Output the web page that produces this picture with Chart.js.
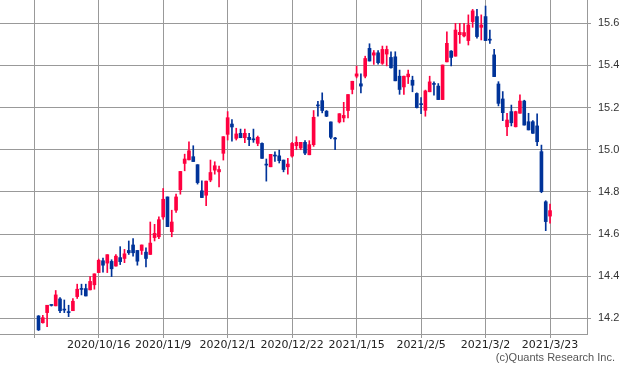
<!DOCTYPE html>
<html>
<head>
<meta charset="utf-8">
<script src="https://cdn.jsdelivr.net/npm/chart.js@4"></script>
<style>
html, body { margin: 0; padding: 0; background: #fff; }
</style>
</head>
<body>
<canvas id="candleChart" width="620" height="372"></canvas>
<script>
// DATA (one candle per trading day, index 0 = first day)
const tickIndex = [-1, 14, 29, 44, 59, 74, 89, 104, 119];
const tickLabels = ["", "2020/10/16", "2020/11/9", "2020/12/1", "2020/12/22", "2021/1/15", "2021/2/5", "2021/3/2", "2021/3/23"];
const yTicks = [14.2, 14.4, 14.6, 14.8, 15.0, 15.2, 15.4, 15.6];

const opens = [
    14.211, 14.179, 14.227, 14.263, 14.259, 14.292, 14.241, 14.229, 14.236, 14.303,
    14.339, 14.341, 14.335, 14.359, 14.417, 14.473, 14.462, 14.470, 14.448, 14.488,
    14.484, 14.522, 14.548, 14.522, 14.522, 14.514, 14.503, 14.583, 14.587, 14.681,
    14.776, 14.611, 14.713, 14.810, 14.935, 14.952, 14.967, 14.929, 14.805, 14.784,
    14.856, 14.903, 14.895, 14.983, 15.073, 15.122, 15.054, 15.078, 15.057, 15.059,
    15.049, 15.030, 15.030, 14.930, 14.919, 14.972, 14.971, 14.951, 14.919, 14.970,
    15.019, 15.008, 15.035, 14.976, 15.024, 15.211, 15.233, 15.183, 15.132, 15.053,
    15.132, 15.151, 15.186, 15.286, 15.349, 15.313, 15.349, 15.481, 15.449, 15.460,
    15.410, 15.454, 15.438, 15.441, 15.349, 15.298, 15.346, 15.330, 15.267, 15.216,
    15.187, 15.275, 15.312, 15.302, 15.238, 15.417, 15.468, 15.444, 15.546, 15.540,
    15.518, 15.608, 15.632, 15.581, 15.632, 15.522, 15.450, 15.312, 15.241, 15.109,
    15.181, 15.109, 15.173, 15.231, 15.133, 15.133, 15.113, 14.991, 14.753, 14.685
];
const highs = [
    14.213, 14.214, 14.262, 14.265, 14.332, 14.298, 14.287, 14.262, 14.294, 14.362,
    14.362, 14.362, 14.398, 14.411, 14.481, 14.486, 14.502, 14.478, 14.502, 14.540,
    14.527, 14.567, 14.578, 14.522, 14.548, 14.535, 14.657, 14.646, 14.681, 14.816,
    14.776, 14.713, 14.789, 14.897, 14.979, 15.038, 15.019, 14.929, 14.852, 14.851,
    14.951, 14.943, 14.922, 15.062, 15.181, 15.143, 15.102, 15.098, 15.098, 15.078,
    15.098, 15.065, 15.033, 14.956, 14.978, 14.990, 14.998, 14.951, 14.959, 15.035,
    15.062, 15.035, 15.043, 15.043, 15.186, 15.230, 15.270, 15.186, 15.132, 15.059,
    15.171, 15.225, 15.262, 15.325, 15.397, 15.360, 15.444, 15.503, 15.471, 15.470,
    15.492, 15.492, 15.465, 15.465, 15.378, 15.350, 15.378, 15.349, 15.270, 15.248,
    15.283, 15.349, 15.322, 15.314, 15.402, 15.560, 15.470, 15.600, 15.600, 15.600,
    15.640, 15.666, 15.666, 15.640, 15.682, 15.568, 15.477, 15.323, 15.276, 15.173,
    15.212, 15.183, 15.260, 15.235, 15.173, 15.138, 15.170, 15.022, 14.758, 14.742
];
const lows = [
    14.142, 14.177, 14.160, 14.258, 14.259, 14.227, 14.227, 14.208, 14.236, 14.294,
    14.311, 14.306, 14.335, 14.338, 14.417, 14.419, 14.417, 14.398, 14.448, 14.455,
    14.464, 14.503, 14.495, 14.452, 14.503, 14.444, 14.503, 14.567, 14.578, 14.670,
    14.635, 14.587, 14.702, 14.789, 14.900, 14.952, 14.944, 14.837, 14.773, 14.735,
    14.848, 14.884, 14.824, 14.951, 15.046, 15.041, 15.046, 15.057, 15.033, 15.019,
    15.035, 15.019, 14.959, 14.851, 14.919, 14.944, 14.937, 14.895, 14.884, 14.965,
    15.000, 15.000, 14.976, 14.976, 15.016, 15.159, 15.175, 15.157, 15.052, 15.000,
    15.127, 15.132, 15.151, 15.265, 15.341, 15.270, 15.341, 15.421, 15.405, 15.406,
    15.405, 15.398, 15.387, 15.327, 15.263, 15.263, 15.314, 15.275, 15.198, 15.171,
    15.159, 15.275, 15.259, 15.238, 15.238, 15.417, 15.398, 15.444, 15.505, 15.535,
    15.497, 15.581, 15.529, 15.521, 15.518, 15.505, 15.347, 15.208, 15.138, 15.067,
    15.113, 15.108, 15.173, 15.117, 15.094, 15.078, 15.019, 14.796, 14.616, 14.651
];
const closes = [
    14.145, 14.203, 14.262, 14.261, 14.311, 14.236, 14.239, 14.227, 14.281, 14.338,
    14.337, 14.306, 14.375, 14.411, 14.475, 14.452, 14.502, 14.435, 14.495, 14.469,
    14.506, 14.511, 14.511, 14.471, 14.548, 14.484, 14.557, 14.603, 14.668, 14.765,
    14.635, 14.657, 14.776, 14.897, 14.956, 14.995, 14.944, 14.844, 14.773, 14.851,
    14.892, 14.924, 14.906, 15.062, 15.152, 15.108, 15.075, 15.057, 15.078, 15.048,
    15.047, 15.059, 14.959, 14.927, 14.978, 14.970, 14.948, 14.906, 14.932, 15.030,
    15.035, 15.035, 14.984, 15.024, 15.154, 15.208, 15.186, 15.159, 15.059, 15.051,
    15.171, 15.163, 15.262, 15.325, 15.360, 15.302, 15.433, 15.421, 15.460, 15.413,
    15.476, 15.476, 15.389, 15.327, 15.286, 15.349, 15.359, 15.306, 15.200, 15.214,
    15.279, 15.322, 15.310, 15.238, 15.402, 15.505, 15.438, 15.568, 15.557, 15.556,
    15.592, 15.659, 15.537, 15.592, 15.518, 15.520, 15.347, 15.220, 15.176, 15.141,
    15.128, 15.181, 15.231, 15.117, 15.094, 15.078, 15.038, 14.801, 14.659, 14.711
];

const upColor = "#ff0040";
const downColor = "#003399";
const candleColors = closes.map((c, i) => c >= opens[i] ? upColor : downColor);

// floating bars: body = open..close, wick = low..high
const bodies = opens.map((o, i) => ({ x: i, y: [o, closes[i]] }));
const wicks = lows.map((l, i) => ({ x: i, y: [l, highs[i]] }));

// copyright line under the axis
const creditText = {
    id: "creditText",
    afterDraw(chart) {
        const ctx = chart.ctx;
        ctx.save();
        ctx.font = "11px 'Liberation Sans'";
        ctx.fillStyle = "#555";
        ctx.textAlign = "right";
        ctx.textBaseline = "alphabetic";
        ctx.fillText("(c)Quants Research Inc.", 615, 361);
        ctx.restore();
    }
};

new Chart(document.getElementById("candleChart"), {
    type: "bar",
    data: {
        datasets: [{
            label: "body",
            data: bodies,
            backgroundColor: candleColors,
            barThickness: 3,
            minBarLength: 1,
            grouped: false,
            order: 0
        }, {
            label: "wick",
            data: wicks,
            backgroundColor: candleColors,
            barThickness: 1,
            grouped: false,
            order: 1
        }]
    },
    options: {
        responsive: false,
        animation: false,
        layout: { padding: 0 },
        plugins: {
            legend: { display: false },
            tooltip: { enabled: false }
        },
        scales: {
            x: {
                type: "linear",
                offset: false,
                min: -8.96,
                max: 127.6,
                grid: { color: "#999", tickLength: 4, offset: false },
                border: { color: "#999" },
                ticks: {
                    padding: 1,
                    color: "#222",
                    font: { family: "DejaVu Sans", size: 11 },
                    maxRotation: 0,
                    autoSkip: false,
                    callback: (v, i) => tickLabels[i]
                },
                afterBuildTicks: s => { s.ticks = tickIndex.map(v => ({ value: v })); },
                afterFit: s => {
                    s.height = 38;
                    s.paddingLeft = 0;
                    s.paddingRight = 0;
                }
            },
            y: {
                position: "right",
                min: 14.1255,
                max: 15.7106,
                grid: { color: "#999", tickLength: 4 },
                border: { color: "#999" },
                ticks: {
                    padding: 7,
                    color: "#333",
                    font: { family: "Liberation Sans", size: 11 },
                    callback: v => v.toFixed(1)
                },
                afterBuildTicks: s => { s.ticks = yTicks.map(v => ({ value: v })); },
                afterFit: s => {
                    s.width = 33;
                    s.paddingTop = 0;
                    s.paddingBottom = 0;
                }
            }
        }
    },
    plugins: [creditText]
});
</script>
</body>
</html>
